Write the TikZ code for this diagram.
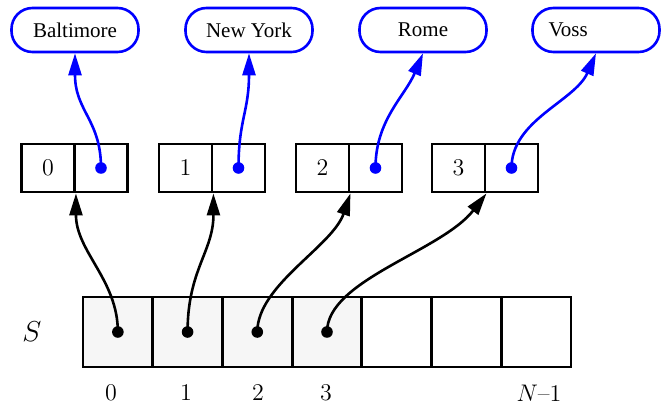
\documentclass[tikz,border=0pt]{standalone}
\usepackage{fontspec}
\newfontfamily\timesf{Liberation Serif}
\usetikzlibrary{arrows.meta}
\definecolor{cellgray}{RGB}{246,246,246}
\begin{document}
\begin{tikzpicture}[x=0.5pt,y=-0.5pt,
  city/.style={draw=blue, line width=1.3pt, rounded corners=10.5pt, minimum width=63.5pt, minimum height=22pt, inner sep=0pt, font=\timesf\fontsize{10.5}{12}\selectfont},
  pcell/.style={draw, line width=1.45pt, minimum width=26.5pt, minimum height=24pt, inner sep=0pt, font=\fontsize{12}{14}\selectfont},
  acell/.style={draw, line width=1.45pt, minimum width=34.857pt, minimum height=35pt, inner sep=0pt},
  used/.style={acell, fill=cellgray},
  bluelink/.style={blue, line width=1.3pt, -{Triangle[length=11pt,width=6.5pt]}},
  blacklink/.style={black, line width=1.3pt, -{Triangle[length=11pt,width=6.5pt]}},
  lbl/.style={font=\fontsize{12}{14}\selectfont, inner sep=0pt}
]
\useasboundingbox (0,0) rectangle (666,405);

% city nodes
\node[city] (c0) at (75,30) {Baltimore};
\node[city] (c1) at (249,30) {New York};
\node[city] (c2) at (423,30) {Rome};
\node[city] (c3) at (596,30) {\makebox[63.5pt][l]{\hspace{8pt}Voss}};

% pair boxes
\node[pcell] (p0l) at (48,168) {0};
\node[pcell] (p0r) at (101,168) {};
\node[pcell] (p1l) at (185.5,168) {1};
\node[pcell] (p1r) at (238.5,168) {};
\node[pcell] (p2l) at (322.5,168) {2};
\node[pcell] (p2r) at (375.5,168) {};
\node[pcell] (p3l) at (458.5,168) {3};
\node[pcell] (p3r) at (511.5,168) {};

% array
\node[used] (a0) at (117.86,332) {};
\node[used] (a1) at (187.57,332) {};
\node[used] (a2) at (257.29,332) {};
\node[used] (a3) at (327,332) {};
\node[acell] (a4) at (396.71,332) {};
\node[acell] (a5) at (466.43,332) {};
\node[acell] (a6) at (536.14,332) {};

% labels
\node[lbl, font=\fontsize{14}{16}\selectfont] (s) at (32,332) {$S$};
\node[lbl] (i0) at (111,393) {0};
\node[lbl] (i1) at (186,393) {1};
\node[lbl] (i2) at (258,393) {2};
\node[lbl] (i3) at (326,393) {3};
\node[lbl] (iN) at (539,393) {$N$--1};

% blue links
\fill[blue] (p0r.center) circle (2.9pt);
\fill[blue] (p1r.center) circle (2.9pt);
\fill[blue] (p2r.center) circle (2.9pt);
\fill[blue] (p3r.center) circle (2.9pt);
\draw[bluelink] (p0r.center) .. controls +(0,-48) and +(0,58) .. (c0.south);
\draw[bluelink] (p1r.center) .. controls +(0,-48) and +(0,58) .. (c1.south);
\draw[bluelink] (p2r.center) .. controls +(0,-48) and +(-18,43) .. (c2.south);
\draw[bluelink] (p3r.center) .. controls +(0,-48) and +(-21,48) .. (c3.south);

% black links
\fill (a0.center) circle (2.9pt);
\fill (a1.center) circle (2.9pt);
\fill (a2.center) circle (2.9pt);
\fill (a3.center) circle (2.9pt);
\draw[blacklink] (a0.center) .. controls +(0,-52) and +(0,58) .. (p0l.south east);
\draw[blacklink] (a1.center) .. controls +(0,-62) and +(0,58) .. (p1l.south east);
\draw[blacklink] (a2.center) .. controls +(0,-47) and +(-18,53) .. (p2l.south east);
\draw[blacklink] (a3.center) .. controls +(0,-52) and +(-45,58) .. (p3l.south east);
\end{tikzpicture}
\end{document}
